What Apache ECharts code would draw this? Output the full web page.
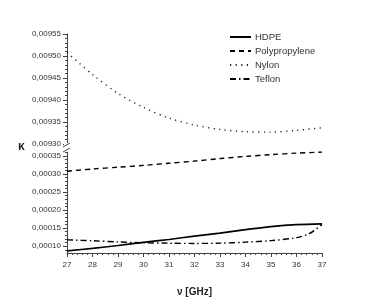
<!DOCTYPE html>
<html><head><meta charset="utf-8">
<script src="https://cdn.jsdelivr.net/npm/echarts@6/dist/echarts.min.js"></script>
<style>html,body{margin:0;padding:0;background:#fff}#c{width:374px;height:305px}</style>
</head><body><div id="c"></div>
<script>
const freq = [27, 28, 29, 30, 31, 32, 33, 34, 35, 36, 37];
const hdpe = [0.0000869, 0.0000939, 0.000102, 0.0001106, 0.0001186, 0.0001278, 0.0001361, 0.0001458, 0.0001542, 0.0001597, 0.0001619];
const polypropylene = [0.000308, 0.000314, 0.000319, 0.000324, 0.000330, 0.000336, 0.000343, 0.000349, 0.000354, 0.000358, 0.000361];
const nylon = [0.009508, 0.009458, 0.009415, 0.009383, 0.009359, 0.009343, 0.009333, 0.009328, 0.009327, 0.009331, 0.009337];
const teflonFreq = [27, 28, 29, 30, 31, 32, 33, 34, 35, 36, 36.5, 37];
const teflon = [0.0001175, 0.000115, 0.0001117, 0.0001094, 0.0001083, 0.0001075, 0.0001083, 0.0001111, 0.0001153, 0.0001236, 0.0001345, 0.000160];
const xTicks = [27, 28, 29, 30, 31, 32, 33, 34, 35, 36, 37];
const upperTicks = [0.00930, 0.00935, 0.00940, 0.00945, 0.00950, 0.00955];
const lowerTicks = [0.00010, 0.00015, 0.00020, 0.00025, 0.00030, 0.00035];

const upperMinor = [];
for (let i = 0; i <= 25; i++) upperMinor.push(+(0.00930 + i * 0.00001).toFixed(6));
const lowerMinor = [];
for (let i = 0; i <= 29; i++) lowerMinor.push(+(0.00009 + i * 0.00001).toFixed(6));

const FONT = '"Liberation Sans", Arial, sans-serif';
const fmt = v => v.toFixed(5).replace('.', ',');
const pair = (xs, ys) => xs.map((x, i) => [x, ys[i]]);

const chart = echarts.init(document.getElementById('c'), null, {renderer: 'canvas'});
const axisCol = '#444';
const yBase = (grid, min, max, ticks) => ({
  type: 'value', gridIndex: grid, min: min, max: max, position: 'left',
  splitLine: {show: false},
  axisLine: {show: true, lineStyle: {color: axisCol, width: 1}},
  axisTick: {show: true, customValues: ticks, length: 4, lineStyle: {color: axisCol}},
  axisLabel: {show: true, customValues: ticks, formatter: fmt, fontFamily: FONT, fontSize: 8, color: '#333', margin: 6}
});
const yMinor = (grid, min, max, ticks) => ({
  type: 'value', gridIndex: grid, min: min, max: max, position: 'left',
  splitLine: {show: false},
  axisLine: {show: false},
  axisTick: {show: true, customValues: ticks, length: 2, lineStyle: {color: axisCol}},
  axisLabel: {show: false}
});

const option = {
  animation: false,
  backgroundColor: '#fff',
  grid: [
    {left: 67, right: 52, top: 34, height: 110},
    {left: 67, right: 52, top: 151, height: 102}
  ],
  xAxis: [
    {type: 'value', gridIndex: 0, min: 27, max: 37, show: false},
    {type: 'value', gridIndex: 1, min: 27, max: 37, interval: 1,
      splitLine: {show: false},
      axisLine: {show: true, onZero: false, lineStyle: {color: axisCol}},
      axisTick: {show: true, length: 4, lineStyle: {color: axisCol}},
      minorTick: {show: true, splitNumber: 5, length: 2, lineStyle: {color: axisCol}},
      axisLabel: {fontFamily: FONT, fontSize: 8, color: '#333', margin: 8},
      name: 'ν [GHz]', nameLocation: 'middle', nameGap: 34,
      nameTextStyle: {fontFamily: FONT, fontSize: 10, fontWeight: 'bold', color: '#222'}
    }
  ],
  yAxis: [
    yBase(0, 0.00930, 0.00955, upperTicks),
    yBase(1, 0.000081, 0.000364, lowerTicks),
    yMinor(0, 0.00930, 0.00955, upperMinor),
    yMinor(1, 0.000081, 0.000364, lowerMinor)
  ],
  legend: {
    orient: 'vertical', left: 229, top: 32, padding: 0, itemWidth: 21, itemHeight: 8, itemGap: 4,
    itemStyle: {opacity: 0},
    textStyle: {fontFamily: FONT, fontSize: 9.5, color: '#333', padding: [0, 0, 0, -1]},
    data: ['HDPE', 'Polypropylene', 'Nylon', 'Teflon']
  },
  graphic: [
    {type: 'text', left: 18, top: 141, style: {text: 'κ', font: 'bold 12px ' + FONT, fill: '#222'}},
    {type: 'rect', shape: {x: 64, y: 143, width: 6, height: 9}, style: {fill: '#fff'}, z: 100},
    {type: 'line', shape: {x1: 63, y1: 147, x2: 70, y2: 143}, style: {stroke: axisCol, lineWidth: 1}, z: 101},
    {type: 'line', shape: {x1: 63, y1: 152, x2: 70, y2: 148}, style: {stroke: axisCol, lineWidth: 1}, z: 101}
  ],
  series: [
    {name: 'HDPE', type: 'line', xAxisIndex: 1, yAxisIndex: 1, data: pair(freq, hdpe), smooth: 0.3, symbol: 'none',
      lineStyle: {color: '#000', width: 1.6, type: 'solid'}, itemStyle: {color: '#000'}},
    {name: 'Polypropylene', type: 'line', xAxisIndex: 1, yAxisIndex: 1, data: pair(freq, polypropylene), smooth: 0.3, symbol: 'none',
      lineStyle: {color: '#000', width: 1.4, type: [5, 4]}, itemStyle: {color: '#000'}},
    {name: 'Nylon', type: 'line', xAxisIndex: 0, yAxisIndex: 0, data: pair(freq, nylon), smooth: 0.3, symbol: 'none',
      lineStyle: {color: '#222', width: 1.4, type: [1.2, 4.4]}, itemStyle: {color: '#222'}},
    {name: 'Teflon', type: 'line', xAxisIndex: 1, yAxisIndex: 1, data: pair(teflonFreq, teflon), smooth: 0.3, symbol: 'none',
      lineStyle: {color: '#000', width: 1.4, type: [6, 3, 1.5, 3]}, itemStyle: {color: '#000'}}
  ]
};
chart.setOption(option);
</script></body></html>
